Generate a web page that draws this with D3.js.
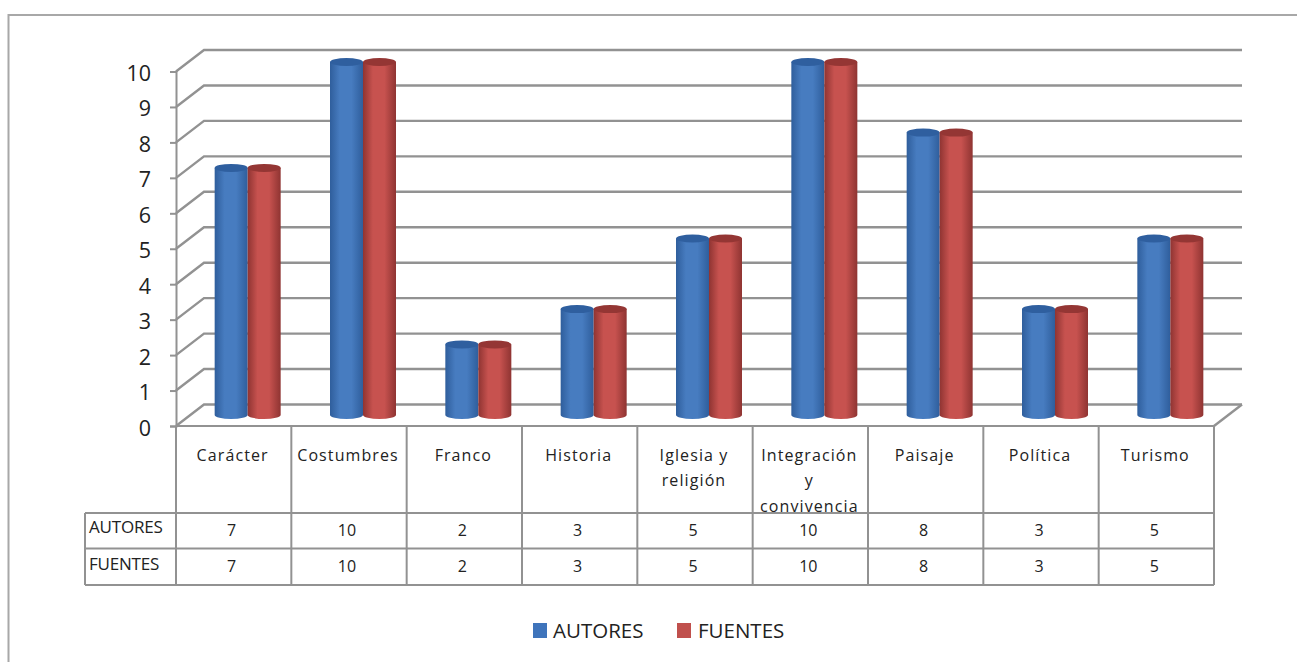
<!DOCTYPE html>
<html lang="es">
<head>
<meta charset="utf-8">
<title>Autores y fuentes por tema</title>
<script src="https://cdn.jsdelivr.net/npm/d3@7"></script>
<style>
  html, body { margin: 0; padding: 0; background: #fff; }
  svg { display: block; }
  text { font-family: "Open Sans", "DejaVu Sans", sans-serif; fill: #222; }
</style>
</head>
<body>
<div id="chart"></div>
<script>
const categories = ["Carácter", "Costumbres", "Franco", "Historia", "Iglesia y religión", "Integración y convivencia", "Paisaje", "Política", "Turismo"];
const categoryLines = [["Carácter"], ["Costumbres"], ["Franco"], ["Historia"], ["Iglesia y", "religión"], ["Integración", "y", "convivencia"], ["Paisaje"], ["Política"], ["Turismo"]];
const autores = [7, 10, 2, 3, 5, 10, 8, 3, 5];
const fuentes = [7, 10, 2, 3, 5, 10, 8, 3, 5];
const seriesNames = ["AUTORES", "FUENTES"];
const seriesValues = [autores, fuentes];
const yTicks = [0, 1, 2, 3, 4, 5, 6, 7, 8, 9, 10];

const width = 1297, height = 662;
const svg = d3.select("#chart").append("svg").attr("width", width).attr("height", height);

const frameColor = "#a8a8a8", lineColor = "#929292";
const depthX = 28, depthY = -21.5;

const x = d3.scaleBand().domain(categories).range([176, 1214]);
const y = d3.scaleLinear().domain([0, 10]).range([426, 71.5]);
const yBar = d3.scaleLinear().domain([0, 10]).range([415, 62]);

// gradients for the cylinder bodies
const palette = [
  { edge: "#2f5e9c", mid: "#477cc0", cap: "#2f5f9f", key: "#3f74bb" },
  { edge: "#8f3432", mid: "#c7524f", cap: "#943634", key: "#c0504d" }
];
const defs = svg.append("defs");
palette.forEach((p, i) => {
  const g = defs.append("linearGradient").attr("id", "cyl" + i);
  [[0, p.edge], [0.3, p.mid], [0.65, p.mid], [1, p.edge]].forEach(([o, c]) =>
    g.append("stop").attr("offset", o).attr("stop-color", c));
});

// outer chart frame
svg.append("path").attr("fill", "none").attr("stroke", frameColor).attr("stroke-width", 2)
  .attr("d", `M8.5 ${height}V15H${width}`);

// walls: back gridlines with their diagonal returns, floor edge on the right
const grid = svg.append("g").attr("fill", "none").attr("stroke", lineColor).attr("stroke-width", 2.4);
grid.selectAll("path.grid").data(yTicks).join("path").attr("class", "grid")
  .attr("d", d => `M${x.range()[0]} ${y(d)}L${x.range()[0] + depthX} ${y(d) + depthY}H${x.range()[1] + depthX}`);
grid.append("path")
  .attr("d", `M${x.range()[1]} ${y(0)}L${x.range()[1] + depthX} ${y(0) + depthY}`);

// value axis
const axis = svg.append("g").attr("transform", `translate(${x.range()[0]},0)`)
  .call(d3.axisLeft(y).tickValues(yTicks).tickSize(6).tickPadding(19).tickFormat(d3.format("d")));
axis.selectAll("path, line").attr("stroke", lineColor).attr("stroke-width", 2);
axis.selectAll("text").attr("font-size", 21.5).attr("dy", "0.42em")
  .style("font-family", '"Open Sans", sans-serif').style("fill", "#222");

// cylinders
const barW = 33, capRy = 4;
const barsG = svg.append("g");
seriesValues.forEach((vals, s) => {
  const xOf = (d, i) => x(categories[i]) + x.bandwidth() / 2 + depthX / 2 + (s - 1) * barW;
  const bar = barsG.selectAll(null).data(vals).join("g");
  bar.append("path")
    .attr("fill", `url(#cyl${s})`)
    .attr("d", (d, i) => {
      const l = xOf(d, i), r = l + barW, t = yBar(d), b = yBar(0);
      return `M${l} ${t}V${b}A${barW / 2} ${capRy} 0 0 0 ${r} ${b}V${t}Z`;
    });
  bar.append("ellipse")
    .attr("cx", (d, i) => xOf(d, i) + barW / 2)
    .attr("cy", d => yBar(d))
    .attr("rx", barW / 2).attr("ry", capRy)
    .attr("fill", palette[s].cap);
});

// data table beneath the plot
const tableTop = y(0), rowYs = [513, 548.5, 585], tableLeft = 85;
const table = svg.append("g").attr("fill", "none").attr("stroke", lineColor).attr("stroke-width", 2);
table.append("path").attr("d", `M${x.range()[0]} ${tableTop}H${x.range()[1]}`);
table.selectAll("path.row").data(rowYs).join("path").attr("class", "row")
  .attr("d", d => `M${tableLeft} ${d}H${x.range()[1]}`);
const edges = categories.map(c => x(c)).concat(x.range()[1]);
table.selectAll("path.col").data(edges).join("path").attr("class", "col")
  .attr("d", d => `M${d} ${tableTop}V585`);
table.append("path").attr("d", `M${tableLeft} 513V585`);

const cellText = svg.append("g").attr("font-size", 16);
categoryLines.forEach((lines, i) => {
  const cx = x(categories[i]) + x.bandwidth() / 2 - 1;
  cellText.selectAll(null).data(lines).join("text")
    .attr("x", cx).attr("y", (d, j) => 460.5 + j * 25.5)
    .attr("text-anchor", "middle").attr("letter-spacing", "1.1px")
    .text(d => d);
});
const rowTextY = [536, 572], rowNameY = [533, 570];
seriesNames.forEach((name, s) => {
  cellText.append("text").attr("x", 89).attr("y", rowNameY[s])
    .attr("font-size", 17).attr("letter-spacing", "-0.2px").text(name);
  cellText.selectAll(null).data(seriesValues[s]).join("text")
    .attr("x", (d, i) => x(categories[i]) + x.bandwidth() / 2 - 2)
    .attr("y", rowTextY[s]).attr("text-anchor", "middle").text(d => d);
});

// legend
const legendX = [533, 677];
const legend = svg.append("g").selectAll("g").data(seriesNames).join("g")
  .attr("transform", (d, i) => `translate(${legendX[i]},623)`);
legend.append("rect").attr("width", 14).attr("height", 15).attr("fill", (d, i) => palette[i].key);
legend.append("text").attr("x", (d, i) => i ? 21 : 20).attr("y", 15).attr("font-size", 20.5).text(d => d);
</script>
</body>
</html>
